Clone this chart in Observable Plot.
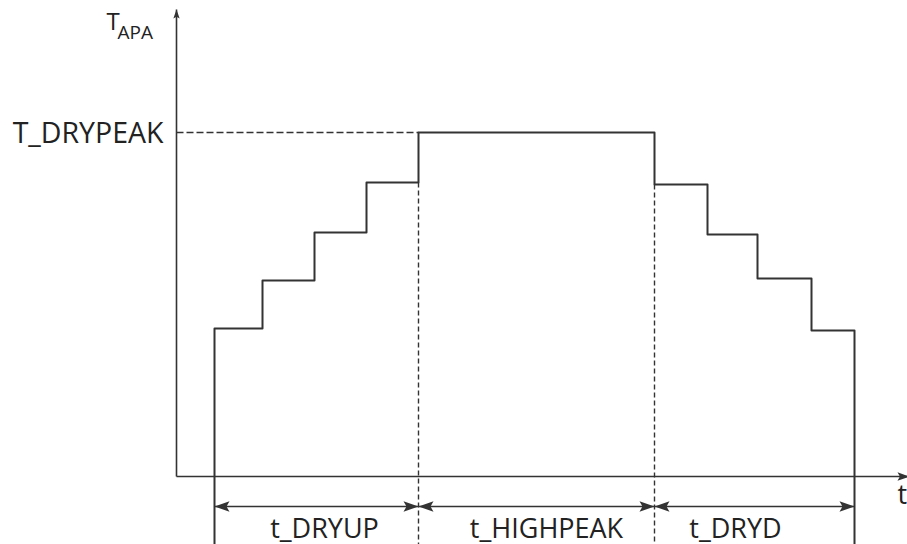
<!DOCTYPE html>
<html>
<head>
<meta charset="utf-8">
<script src="https://cdn.jsdelivr.net/npm/d3@7"></script>
<script src="https://cdn.jsdelivr.net/npm/@observablehq/plot@0.6"></script>
<style>
  html, body { margin: 0; padding: 0; background: #fff; overflow: hidden; }
  #chart svg { overflow: hidden; display: block; }
</style>
</head>
<body>
<div id="chart"></div>
<script>
// ---- data (time units on x, temperature units on y) ----
const stepEdges  = [0.76, 1.72, 2.76, 3.80, 4.84, 9.56, 10.62, 11.62, 12.70, 13.56];
const stepLevels = [2.96, 3.92, 4.88, 5.88, 6.88, 5.84, 4.84, 3.96, 2.92];
const phaseLabels = ["t_DRYUP", "t_HIGHPEAK", "t_DRYD"];
const phaseBounds = [0.76, 4.84, 9.56, 13.56];
const peakLabel = "T_DRYPEAK";
const yAxisLabel = "T";
const yAxisSub = "APA";
const xAxisLabel = "t";
const xAxisEnd = 14.66;
const yAxisTop = 9.34;
const dimLevel = -0.60;
const bottomLevel = -1.40;

// ---- layout / style ----
const ink = "#333";
const font = "Open Sans";
const labelNudge = [8, 10, -19];

const peak = d3.max(stepLevels);

// step outline vertices
const stepPts = [{x: stepEdges[0], y: bottomLevel}];
stepLevels.forEach((lv, i) => {
  stepPts.push({x: stepEdges[i], y: lv});
  stepPts.push({x: stepEdges[i + 1], y: lv});
});
stepPts.push({x: stepEdges[stepEdges.length - 1], y: bottomLevel});

// filled arrowhead symbol, tip at origin, pointing up
const arrowHead = {
  draw(ctx, size) {
    const L = Math.sqrt(size / Math.PI);
    const w = 0.35 * L;
    ctx.moveTo(0, 0);
    ctx.lineTo(w, L);
    ctx.lineTo(0, 0.8 * L);
    ctx.lineTo(-w, L);
    ctx.closePath();
  }
};

const phases = phaseLabels.map((label, i) => ({
  label, x1: phaseBounds[i], x2: phaseBounds[i + 1], mid: (phaseBounds[i] + phaseBounds[i + 1]) / 2, i
}));

const dimHeads = phases.flatMap(p => [
  {x: p.x1, y: dimLevel, rot: -90},
  {x: p.x2, y: dimLevel, rot: 90}
]);

const plot = Plot.plot({
  width: 907,
  height: 544,
  margin: 0,
  x: {domain: [-3.52, 14.62], axis: null},
  y: {domain: [-1.36, 9.52], axis: null},
  style: {fontFamily: font, background: "#fff"},
  marks: [
    // dashed peak reference line
    Plot.link([{x1: 0, x2: phaseBounds[1], y: peak}], {
      x1: "x1", x2: "x2", y1: "y", y2: "y",
      stroke: ink, strokeWidth: 1.5, strokeDasharray: "7,3"
    }),
    // dashed phase boundaries
    Plot.link([1, 2].map(i => ({x: phaseBounds[i], y1: stepLevels[i === 1 ? 3 : 5], y2: bottomLevel})), {
      x1: "x", x2: "x", y1: "y1", y2: "y2",
      stroke: ink, strokeWidth: 1.4, strokeDasharray: "5,3"
    }),
    // axes
    Plot.link([{x1: 0, y1: 0, x2: xAxisEnd, y2: 0}, {x1: 0, y1: 0, x2: 0, y2: yAxisTop}], {
      x1: "x1", y1: "y1", x2: "x2", y2: "y2", stroke: ink, strokeWidth: 1.6
    }),
    Plot.dot([{x: 0, y: yAxisTop, rot: 0}], {
      x: "x", y: "y", rotate: "rot", symbol: arrowHead, r: 9, fill: ink, stroke: "none"
    }),
    Plot.dot([{x: xAxisEnd, y: 0, rot: 90}], {
      x: "x", y: "y", rotate: "rot", symbol: arrowHead, r: 12, fill: ink, stroke: "none"
    }),
    // step profile
    Plot.line(stepPts, {x: "x", y: "y", stroke: ink, strokeWidth: 2, curve: "linear"}),
    // dimension lines
    Plot.link(phases, {x1: "x1", x2: "x2", y1: () => dimLevel, y2: () => dimLevel, stroke: ink, strokeWidth: 1.6}),
    Plot.dot(dimHeads, {
      x: "x", y: "y", rotate: "rot", symbol: arrowHead, r: 15, fill: ink, stroke: "none"
    }),
    // phase labels
    ...phases.map(p => Plot.text([p], {
      x: "mid", y: () => -1.22, text: "label", textAnchor: "middle", lineAnchor: "bottom",
      dx: labelNudge[p.i], fontSize: 27, fill: "#222", fontFamily: font
    })),
    // peak label
    Plot.text([peakLabel], {
      x: () => -0.26, y: () => 6.68, text: d => d, textAnchor: "end", lineAnchor: "bottom",
      fontSize: 28.5, fill: "#222", fontFamily: font
    }),
    // y axis label with subscript
    Plot.text([yAxisLabel], {
      x: () => -1.40, y: () => 8.94, text: d => d, textAnchor: "start", lineAnchor: "bottom",
      fontSize: 24, fill: "#222", fontFamily: font
    }),
    Plot.text([yAxisSub], {
      x: () => -1.18, y: () => 8.76, text: d => d, textAnchor: "start", lineAnchor: "bottom",
      fontSize: 19, fill: "#222", fontFamily: font
    }),
    // x axis label
    Plot.text([xAxisLabel], {
      x: () => 14.42, y: () => -0.54, text: d => d, textAnchor: "start", lineAnchor: "bottom",
      fontSize: 27, fill: "#222", fontFamily: font
    })
  ]
});

document.getElementById("chart").appendChild(plot);
</script>
</body>
</html>
